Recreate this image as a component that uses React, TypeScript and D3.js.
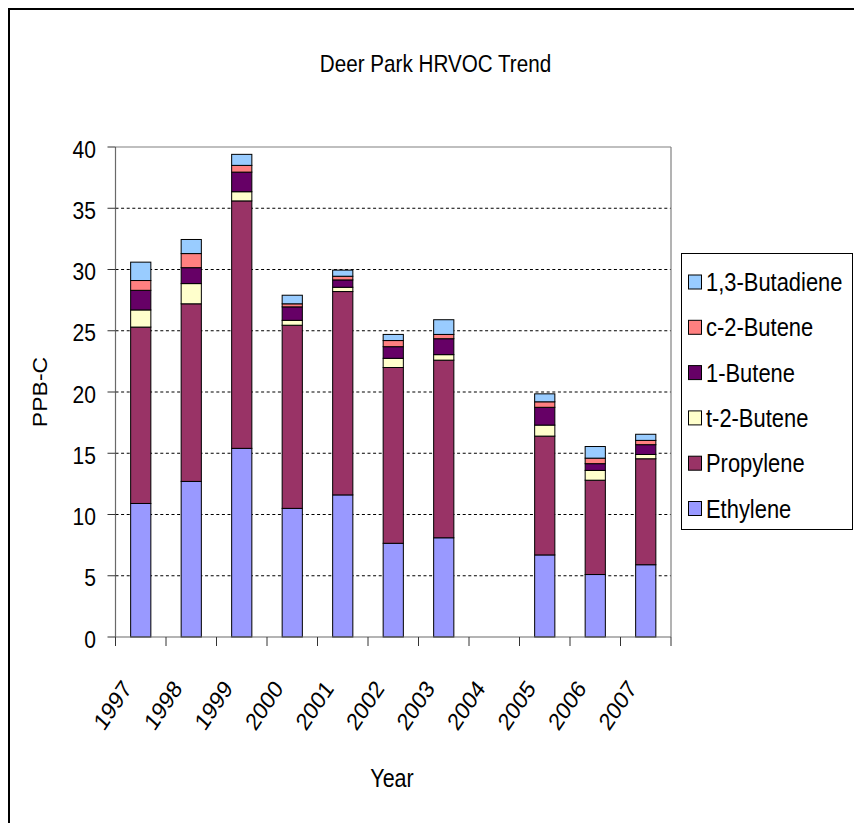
import React from "react";
import * as d3 from "d3";

const years = ["1997", "1998", "1999", "2000", "2001", "2002", "2003", "2004", "2005", "2006", "2007"];
const ethylene = [10.9, 12.7, 15.4, 10.5, 11.6, 7.65, 8.1, null, 6.7, 5.1, 5.9];
const propylene = [14.4, 14.5, 20.2, 14.95, 16.6, 14.35, 14.5, null, 9.7, 7.7, 8.65];
const t2Butene = [1.4, 1.65, 0.75, 0.4, 0.35, 0.75, 0.45, null, 0.9, 0.8, 0.35];
const butene1 = [1.6, 1.3, 1.6, 1.1, 0.6, 0.95, 1.3, null, 1.45, 0.55, 0.8];
const c2Butene = [0.8, 1.15, 0.55, 0.25, 0.3, 0.5, 0.35, null, 0.45, 0.45, 0.35];
const butadiene = [1.5, 1.15, 0.9, 0.7, 0.5, 0.5, 1.2, null, 0.65, 0.95, 0.5];

const seriesNames = ["Ethylene", "Propylene", "t-2-Butene", "1-Butene", "c-2-Butene", "1,3-Butadiene"];
const seriesValues = [ethylene, propylene, t2Butene, butene1, c2Butene, butadiene];
const seriesColors = ["#9999FF", "#993366", "#FFFFCC", "#660066", "#FF8080", "#99CCFF"];
const yTicks = [0, 5, 10, 15, 20, 25, 30, 35, 40];

const FONT = "'Liberation Sans', Arial, sans-serif";
const SX = 0.86;

function SText({ x, y, size, anchor = "start", rotate = 0, children }) {
  return (
    <text
      transform={`translate(${x},${y}) scale(${SX},1) rotate(${rotate})`}
      fontFamily={FONT}
      fontSize={size}
      textAnchor={anchor}
      fill="#000"
    >
      {children}
    </text>
  );
}

export default function App() {
  const left = 115.5, right = 671, top = 147, bottom = 637;
  const x = d3.scaleBand().domain(years).range([left, right]).padding(0);
  const y = d3.scaleLinear().domain([0, 40]).range([bottom, top]);
  const barW = x.bandwidth() * 0.4;

  const rows = years.map((yr, i) => {
    const r = { year: yr, has: seriesValues[0][i] != null };
    seriesNames.forEach((n, k) => (r[n] = seriesValues[k][i] ?? 0));
    return r;
  });
  const stacked = d3.stack().keys(seriesNames)(rows);

  const legendOrder = [...seriesNames].reverse();

  return (
    <svg
      width={854}
      height={823}
      style={{ position: "absolute", left: 0, top: 0, display: "block", background: "#fff" }}
    >
      <rect x={0} y={0} width={854} height={823} fill="#fff" />
      <rect x={9} y={9} width={900} height={900} fill="none" stroke="#000" strokeWidth={2} />

      <SText x={435.5} y={71.5} size={24} anchor="middle">Deer Park HRVOC Trend</SText>

      {/* gridlines */}
      {yTicks.filter((t) => t > 0 && t < 40).map((t) => (
        <line key={t} x1={left} x2={right} y1={y(t)} y2={y(t)} stroke="#000" strokeWidth={1.1} strokeDasharray="3,2.6" />
      ))}
      {/* plot border */}
      <line x1={left} x2={right} y1={top} y2={top} stroke="#808080" strokeWidth={1.2} />
      <line x1={right} x2={right} y1={top} y2={bottom} stroke="#808080" strokeWidth={1.2} />

      {/* bars */}
      {stacked.map((s, k) => (
        <g key={seriesNames[k]}>
          {s.map((d, i) =>
            rows[i].has ? (
              <rect
                key={i}
                x={x(years[i]) + (x.bandwidth() - barW) / 2}
                y={y(d[1])}
                width={barW}
                height={y(d[0]) - y(d[1])}
                fill={seriesColors[k]}
                stroke="#000"
                strokeWidth={1}
              />
            ) : null
          )}
        </g>
      ))}

      {/* y axis */}
      <line x1={left} x2={left} y1={top} y2={bottom} stroke="#6a6a6a" strokeWidth={1.2} />
      {yTicks.map((t) => (
        <g key={t}>
          <line x1={left - 8} x2={left} y1={y(t)} y2={y(t)} stroke="#333" strokeWidth={1} />
          <SText x={96} y={y(t) + 10.5} size={24.5} anchor="end">{String(t)}</SText>
        </g>
      ))}

      {/* x axis */}
      <line x1={left} x2={right} y1={bottom} y2={bottom} stroke="#6a6a6a" strokeWidth={1.2} />
      {[...years.map((yr) => x(yr)), right].map((px, i) => (
        <line key={i} x1={px} x2={px} y1={bottom} y2={bottom + 9} stroke="#333" strokeWidth={1} />
      ))}
      {years.map((yr) => (
        <SText key={yr} x={x(yr) + x.bandwidth() / 2 - 8} y={689} size={24.5} anchor="end" rotate={-52}>
          {yr}
        </SText>
      ))}

      <SText x={392} y={787} size={25} anchor="middle">Year</SText>
      <g transform={`translate(47,392) rotate(-90)`}>
        <text transform={`scale(1,0.9)`} fontFamily={FONT} fontSize={23} textAnchor="middle" fill="#000">
          PPB-C
        </text>
      </g>

      {/* legend */}
      <rect x={681.5} y={253.5} width={171} height={276} fill="#fff" stroke="#000" strokeWidth={1} />
      {legendOrder.map((n, i) => {
        const k = seriesNames.indexOf(n);
        const cy = 282 + i * 45.3;
        return (
          <g key={n}>
            <rect x={688.5} y={cy - 7} width={13} height={14} fill={seriesColors[k]} stroke="#000" strokeWidth={1} />
            <SText x={706} y={cy + 9} size={25.5}>{n}</SText>
          </g>
        );
      })}
    </svg>
  );
}
